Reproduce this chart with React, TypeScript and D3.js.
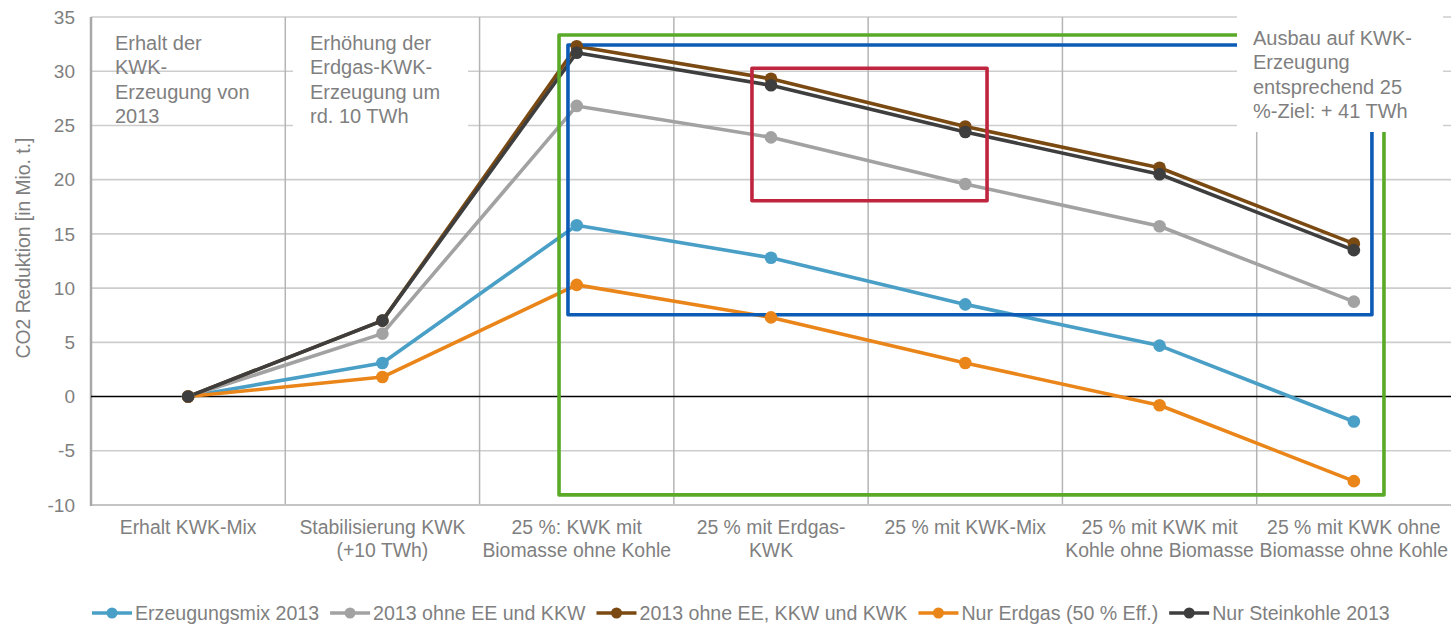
import React, { useEffect, useRef } from "react";
import * as d3 from "d3";

const W = 1451;
const H = 626;
const FONT = "'Liberation Sans', Arial, Helvetica, sans-serif";
const TEXT = "#7f7f7f";

const categories = [
  "Erhalt KWK-Mix",
  "Stabilisierung KWK\n(+10 TWh)",
  "25 %: KWK mit\nBiomasse ohne Kohle",
  "25 % mit Erdgas-\nKWK",
  "25 % mit KWK-Mix",
  "25 % mit KWK mit\nKohle ohne Biomasse",
  "25 % mit KWK ohne\nBiomasse ohne Kohle",
];

const erzeugungsmix2013 = [0, 3.1, 15.8, 12.8, 8.5, 4.7, -2.3];
const ohneEEundKKW = [0, 5.8, 26.8, 23.9, 19.6, 15.7, 8.75];
const ohneEEKKWundKWK = [0, 7.0, 32.3, 29.3, 24.9, 21.1, 14.1];
const nurErdgas = [0, 1.8, 10.3, 7.3, 3.1, -0.8, -7.8];
const nurSteinkohle = [0, 7.0, 31.7, 28.7, 24.4, 20.5, 13.5];

const seriesNames = [
  "Erzeugungsmix 2013",
  "2013 ohne EE und KKW",
  "2013 ohne EE, KKW und KWK",
  "Nur Erdgas (50 % Eff.)",
  "Nur Steinkohle 2013",
];
const seriesValues = [erzeugungsmix2013, ohneEEundKKW, ohneEEKKWundKWK, nurErdgas, nurSteinkohle];
const seriesColors = ["#4a9fc7", "#a2a2a2", "#7a4a12", "#ea8519", "#3e3e3e"];

const yTicks = [-10, -5, 0, 5, 10, 15, 20, 25, 30, 35];

// highlight frames in data units: [x0 index, x1 index, yTop, yBottom]
const frameNames = ["green", "blue", "red"];
const frameColors = ["#5aaa28", "#0c5cb6", "#c0253f"];
const frameX0 = [1.909, 1.955, 2.902];
const frameX1 = [6.155, 6.093, 4.112];
const frameYTop = [33.34, 32.42, 30.27];
const frameYBottom = [-9.07, 7.55, 18.06];

const noteLines = [
  ["Erhalt der", "KWK-", "Erzeugung von", "2013"],
  ["Erhöhung der", "Erdgas-KWK-", "Erzeugung um", "rd. 10 TWh"],
  ["Ausbau auf KWK-", "Erzeugung", "entsprechend 25", "%-Ziel: + 41 TWh"],
];

export default function App() {
  const ref = useRef<SVGSVGElement>(null);

  useEffect(() => {
    document.body.style.margin = "0";
    const svg = d3.select(ref.current);
    svg.selectAll("*").remove();

    const left = 91, right = 1451, top = 17, bottom = 505;

    const xBand = d3.scaleBand<string>().domain(categories).range([left, right]).padding(0);
    const bw = xBand.bandwidth();
    const xIdx = d3.scaleLinear().domain([-0.5, categories.length - 0.5]).range([left, right]);
    const y = d3.scaleLinear().domain([-10, 35]).range([bottom, top]);

    const g = svg.append("g");

    // horizontal gridlines
    g.selectAll("line.hgrid")
      .data(yTicks.filter((t) => t !== 0 && t !== -10))
      .join("line")
      .attr("x1", left)
      .attr("x2", right)
      .attr("y1", (d) => y(d))
      .attr("y2", (d) => y(d))
      .attr("stroke", "#cdcdcd")
      .attr("stroke-width", 1.6);

    // vertical category separators
    g.selectAll("line.vgrid")
      .data(categories.slice(1))
      .join("line")
      .attr("x1", (d) => xBand(d)!)
      .attr("x2", (d) => xBand(d)!)
      .attr("y1", top)
      .attr("y2", bottom)
      .attr("stroke", "#b4b4b4")
      .attr("stroke-width", 1.5);

    // axes lines
    g.append("line").attr("x1", left).attr("x2", right).attr("y1", bottom).attr("y2", bottom)
      .attr("stroke", "#c4c4c4").attr("stroke-width", 2);
    g.append("line").attr("x1", left).attr("x2", left).attr("y1", top).attr("y2", bottom + 1)
      .attr("stroke", "#a8a8a8").attr("stroke-width", 2.5);
    g.append("line").attr("x1", left).attr("x2", right).attr("y1", y(0)).attr("y2", y(0))
      .attr("stroke", "#000").attr("stroke-width", 1.4);

    // y tick labels
    g.selectAll("text.ytick")
      .data(yTicks)
      .join("text")
      .attr("x", 75)
      .attr("y", (d) => y(d))
      .attr("dy", "0.35em")
      .attr("text-anchor", "end")
      .attr("font-family", FONT)
      .attr("font-size", 19)
      .attr("fill", TEXT)
      .text((d) => String(d));

    // y title
    g.append("text")
      .attr("transform", `translate(30,${248}) rotate(-90)`)
      .attr("text-anchor", "middle")
      .attr("font-family", FONT)
      .attr("font-size", 19.3)
      .attr("fill", TEXT)
      .text("CO2 Reduktion [in Mio. t.]");

    // x labels
    categories.forEach((c) => {
      const cx = xBand(c)! + bw / 2;
      const t = g.append("text")
        .attr("text-anchor", "middle")
        .attr("font-family", FONT)
        .attr("font-size", 19.4)
        .attr("fill", TEXT);
      c.split("\n").forEach((line, i) => {
        t.append("tspan").attr("x", cx).attr("y", 534 + i * 22.5).text(line);
      });
    });

    // series lines
    const lineGen = d3.line<number>()
      .x((_, i) => xBand(categories[i])! + bw / 2)
      .y((d) => y(d));

    seriesValues.forEach((vals, si) => {
      g.append("path")
        .attr("d", lineGen(vals)!)
        .attr("fill", "none")
        .attr("stroke", seriesColors[si])
        .attr("stroke-width", 3.6)
        .attr("stroke-linejoin", "round");
    });

    // frames
    frameNames.forEach((_, fi) => {
      g.append("rect")
        .attr("x", xIdx(frameX0[fi]))
        .attr("y", y(frameYTop[fi]))
        .attr("width", xIdx(frameX1[fi]) - xIdx(frameX0[fi]))
        .attr("height", y(frameYBottom[fi]) - y(frameYTop[fi]))
        .attr("fill", "none")
        .attr("stroke", frameColors[fi])
        .attr("stroke-width", 3.6)
        .attr("stroke-linejoin", "round");
    });

    // markers
    seriesValues.forEach((vals, si) => {
      g.selectAll(`circle.s${si}`)
        .data(vals)
        .join("circle")
        .attr("cx", (_, i) => xBand(categories[i])! + bw / 2)
        .attr("cy", (d) => y(d))
        .attr("r", 6.3)
        .attr("fill", seriesColors[si]);
    });

    // annotation boxes
    g.append("rect").attr("x", 293).attr("y", 20).attr("width", 175).attr("height", 111).attr("fill", "#fff");
    g.append("rect").attr("x", 1237).attr("y", 13).attr("width", 206).attr("height", 119).attr("fill", "#fff");

    const notePos = [
      { x: 115, y: 50 },
      { x: 310, y: 50 },
      { x: 1253, y: 45 },
    ];
    noteLines.forEach((lines, ni) => {
      const t = g.append("text")
        .attr("font-family", FONT)
        .attr("font-size", 20)
        .attr("fill", TEXT);
      lines.forEach((line, li) => {
        t.append("tspan").attr("x", notePos[ni].x).attr("y", notePos[ni].y + li * 24.3).text(line);
      });
    });

    // legend
    const legY = 613;
    const lg = g.append("g");
    const items: { g: any; w: number }[] = [];
    seriesNames.forEach((name, si) => {
      const ig = lg.append("g");
      ig.append("line").attr("x1", 0).attr("x2", 40).attr("y1", legY).attr("y2", legY)
        .attr("stroke", seriesColors[si]).attr("stroke-width", 3.6);
      ig.append("circle").attr("cx", 20).attr("cy", legY).attr("r", 5.5).attr("fill", seriesColors[si]);
      const tx = ig.append("text").attr("x", 43).attr("y", legY + 7)
        .attr("font-family", FONT).attr("font-size", 19.6).attr("fill", TEXT).text(name);
      const tw = (tx.node() as SVGTextElement).getComputedTextLength();
      items.push({ g: ig, w: 43 + tw });
    });
    const gap = 11;
    let x = 92;
    items.forEach((it) => {
      it.g.attr("transform", `translate(${x},0)`);
      x += it.w + gap;
    });
  }, []);

  return (
    <svg
      ref={ref}
      width={W}
      height={H}
      style={{ position: "absolute", left: 0, top: 0, display: "block", background: "#fff" }}
    />
  );
}
